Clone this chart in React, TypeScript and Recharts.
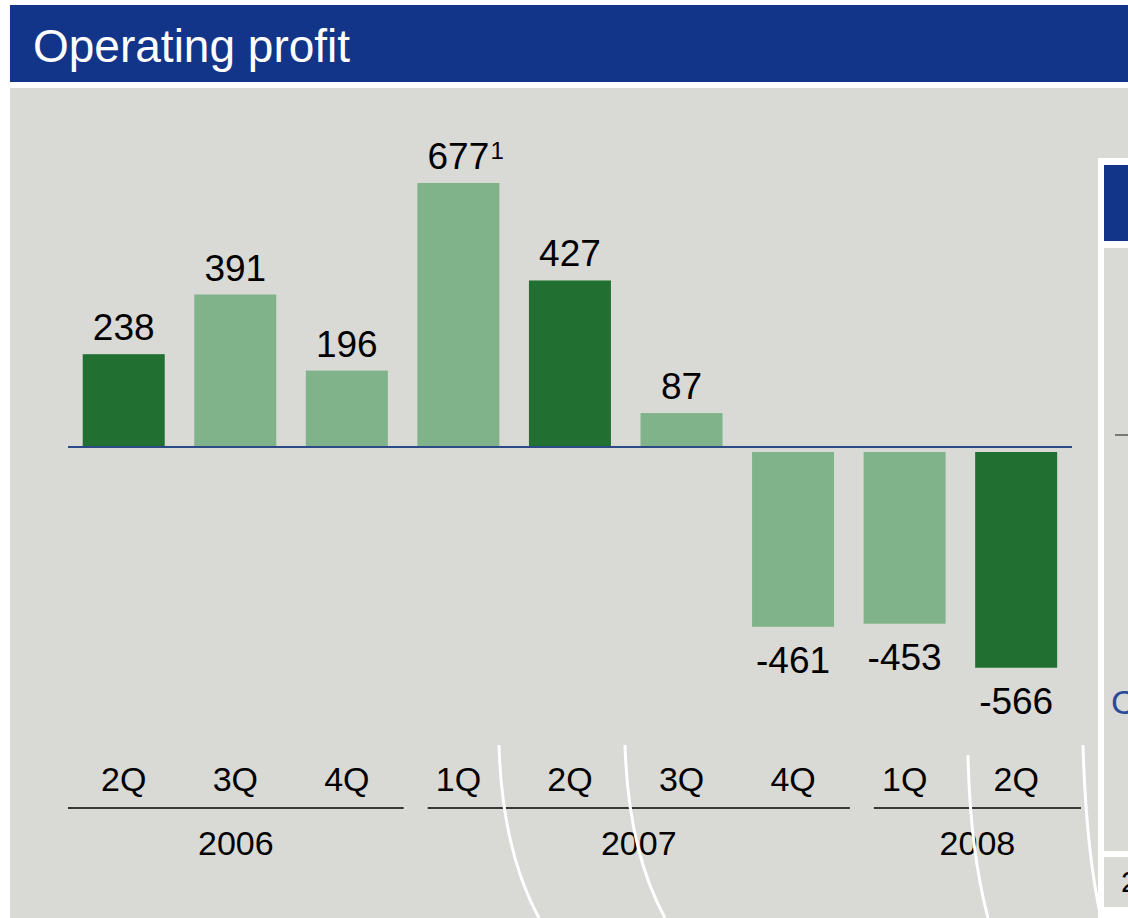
import React from 'react'
import { Bar, BarChart, LabelList, ReferenceLine, XAxis, YAxis } from 'recharts'

const quarters = ['2Q', '3Q', '4Q', '1Q', '2Q', '3Q', '4Q', '1Q', '2Q']
const profit = [238, 391, 196, 677, 427, 87, -461, -453, -566]
const notes = ['', '', '', '1', '', '', '', '', '']
const highlight = [true, false, false, false, true, false, false, false, true]
const years = ['2006', '2007', '2008']
const groupSizes = [3, 4, 2]

const W = 1128
const H = 918
const M = { top: 135, right: 56, left: 68, bottom: 0 }
const BAND = (W - M.left - M.right) / quarters.length
const FONT = 'Arial, "Liberation Sans", Helvetica, sans-serif'
const DARK = '#227031'
const LIGHT = '#80b389'

const data = quarters.map((q, i) => ({
  key: `${q}-${i}`,
  quarter: q,
  value: profit[i],
  note: notes[i],
  dark: highlight[i],
}))

// last index of each year group, for the year row under the quarters
const groupEnds = groupSizes.map((_, g) => groupSizes.slice(0, g + 1).reduce((a, b) => a + b, 0) - 1)

function QuarterTick(props: any) {
  const { x, y, payload } = props
  const index = props.index ?? payload.index
  const g = groupEnds.indexOf(index)
  let group = null
  if (g >= 0) {
    const size = groupSizes[g]
    const left = x - (size - 1) * BAND - BAND / 2 + (g === 0 ? 0 : 25)
    const right = x + BAND / 2 + (g === years.length - 1 ? 9 : 1)
    group = (
      <g>
        <line x1={left} x2={right} y1={y + 49} y2={y + 49} stroke="#000" strokeWidth={1.5} />
        <text x={(left + right) / 2} y={y + 96} textAnchor="middle" fontSize={34} fill="#000" fontFamily={FONT}>
          {years[g]}
        </text>
      </g>
    )
  }
  return (
    <g>
      <text x={x} y={y + 32} textAnchor="middle" fontSize={34} fill="#000" fontFamily={FONT}>
        {quarters[index]}
      </text>
      {group}
    </g>
  )
}

function BarShape(props: any) {
  const { x, y, width, height, payload } = props
  let top = Math.min(y, y + height)
  let h = Math.abs(height)
  if (payload.value < 0) {
    top += 5
    h -= 5
  }
  return <rect x={x} y={top} width={width} height={Math.max(h, 0)} fill={payload.dark ? DARK : LIGHT} />
}

function ValueLabel(props: any) {
  const { x, y, width, height, value, index } = props
  const cx = x + width / 2
  const top = Math.min(y, y + height)
  const bottom = Math.max(y, y + height)
  const note = notes[index]
  if (value >= 0) {
    const base = top - 14
    return (
      <g>
        <text x={cx} y={base} textAnchor="middle" fontSize={37} fill="#000" fontFamily={FONT}>
          {value}
        </text>
        {note ? (
          <text x={cx + 32} y={base - 10} fontSize={24} fill="#000" fontFamily={FONT}>
            {note}
          </text>
        ) : null}
      </g>
    )
  }
  return (
    <text x={cx} y={bottom + 46} textAnchor="middle" fontSize={37} fill="#000" fontFamily={FONT}>
      {value}
    </text>
  )
}

export default function App() {
  return (
    <div style={{ position: 'absolute', left: 0, top: 0, width: W, height: H, background: '#fff', overflow: 'hidden', fontFamily: FONT }}>
      <div style={{ position: 'absolute', left: 10, top: 5, width: 1118, height: 77, background: '#12358a' }} />
      <div style={{ position: 'absolute', left: 33, top: 8, height: 77, lineHeight: '77px', fontSize: 46, color: '#fff', whiteSpace: 'nowrap' }}>
        Operating profit
      </div>
      <div style={{ position: 'absolute', left: 10, top: 88, width: 1118, height: 830, background: '#d9d9d5' }} />

      {/* neighbouring slide panel, cut off at the right edge */}
      <div style={{ position: 'absolute', left: 1098, top: 158, width: 30, height: 760, background: '#fff' }} />
      <div style={{ position: 'absolute', left: 1104, top: 165, width: 24, height: 76, background: '#12358a' }} />
      <div style={{ position: 'absolute', left: 1104, top: 248, width: 24, height: 603, background: '#d9d9d5' }} />
      <div style={{ position: 'absolute', left: 1104, top: 857, width: 24, height: 50, background: '#d9d9d5' }} />
      <div style={{ position: 'absolute', left: 1115, top: 434, width: 13, height: 2, background: '#777' }} />
      <div style={{ position: 'absolute', left: 1111, top: 682, width: 17, overflow: 'hidden', fontSize: 34, color: '#2a4a9a', lineHeight: '40px' }}>C</div>
      <div style={{ position: 'absolute', left: 1121, top: 864, width: 7, overflow: 'hidden', fontSize: 30, color: '#000', lineHeight: '36px' }}>2</div>

      <div style={{ position: 'absolute', left: 0, top: 0 }}>
        <BarChart width={W} height={H} data={data} margin={M} barCategoryGap="13.2%">
          <XAxis
            dataKey="key"
            height={H - 759}
            axisLine={false}
            tickLine={false}
            tickSize={0}
            tickMargin={0}
            interval={0}
            tick={<QuarterTick />}
          />
          <YAxis hide domain={[-800, 800]} />
          <ReferenceLine y={0} stroke="#2c4a86" strokeWidth={2} />
          <Bar dataKey="value" shape={<BarShape />} isAnimationActive={false}>
            <LabelList dataKey="value" content={<ValueLabel />} />
          </Bar>
        </BarChart>
      </div>

      <svg width={W} height={H} style={{ position: 'absolute', left: 0, top: 0, pointerEvents: 'none' }}>
        <g fill="none" stroke="#fff" strokeWidth={3}>
          <path d="M499 745 Q502 850 539 918" />
          <path d="M625 745 Q628 850 665 918" />
          <path d="M968 755 Q970 850 988 918" />
          <path d="M1083 745 Q1086 850 1101 918" />
        </g>
      </svg>
    </div>
  )
}
